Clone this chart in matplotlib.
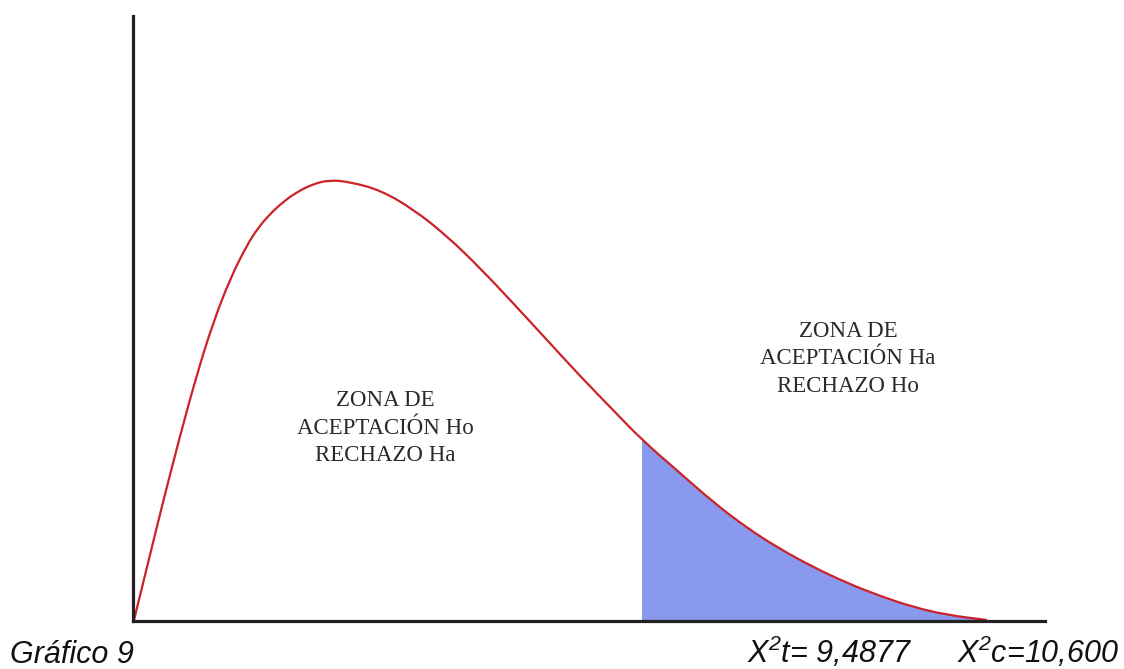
import matplotlib
matplotlib.use('Agg')
import matplotlib.pyplot as plt
from matplotlib.path import Path
from matplotlib.patches import PathPatch, Rectangle

############### Curve ###############
# x: position along the horizontal axis, y: height of the curve (same units)
curve_x = [1, 16, 30, 47, 64, 80, 97, 114, 125, 137, 150, 164, 180, 197, 217, 247,
           280, 314, 347, 380, 414, 447, 480, 509, 547, 580, 614, 647, 680,
           714, 747, 780, 814, 854]
curve_y = [1, 62, 119, 185, 247, 298, 342, 376, 393, 407, 419, 429, 437, 441, 439, 431,
           412, 385, 353, 318, 281, 245, 211, 181, 148, 119, 93, 72, 54,
           38, 25, 14, 6, 1]
critico = 509          # start of the shaded rejection zone

zona_ho = 'ZONA DE\nACEPTACIÓN Ho\nRECHAZO Ha'
zona_ha = 'ZONA DE\nACEPTACIÓN Ha\nRECHAZO Ho'
titulo = 'Gráfico 9'
chi_t = r'X$^2$t= 9,4877'
chi_c = r'X$^2$c=10,600'

plt.rcParams['mathtext.fontset'] = 'custom'
plt.rcParams['mathtext.rm'] = 'Liberation Sans:italic'
plt.rcParams['mathtext.it'] = 'Liberation Sans:italic'

############### Figure ###############
W, H = 1124, 669
fig = plt.figure(figsize=(W / 100, H / 100), dpi=100)
fig.patch.set_facecolor('white')
ax = fig.add_axes([133 / W, 48 / H, 912 / W, 605 / H])
ax.set_xlim(0, 912)
ax.set_ylim(0, 605)

for s in ['top', 'right']:
    ax.spines[s].set_visible(False)
for s in ['left', 'bottom']:
    ax.spines[s].set_linewidth(2.3)
    ax.spines[s].set_color('#222222')
ax.set_xticks([])
ax.set_yticks([])

# smooth path through the read points (quadratic bezier, points as controls)
pts = list(zip(curve_x, curve_y))
verts = [pts[0]]
codes = [Path.MOVETO]
for i in range(1, len(pts) - 1):
    mid = ((pts[i][0] + pts[i + 1][0]) / 2, (pts[i][1] + pts[i + 1][1]) / 2)
    verts += [pts[i], mid]
    codes += [Path.CURVE3, Path.CURVE3]
verts.append(pts[-1])
codes.append(Path.LINETO)

# shaded area under the curve, clipped to the rejection zone
area = Path(verts + [(pts[-1][0], 0), (pts[0][0], 0), pts[0]],
            codes + [Path.LINETO, Path.LINETO, Path.CLOSEPOLY])
fill = PathPatch(area, facecolor='#8999ee', edgecolor='none', zorder=1)
ax.add_patch(fill)
clip = Rectangle((critico, 0), 912 - critico, 605, transform=ax.transData)
fill.set_clip_path(clip)

ax.add_patch(PathPatch(Path(verts, codes), facecolor='none', edgecolor='#cc2229',
                       linewidth=1.6, zorder=2))

txt = dict(family='Liberation Serif', fontsize=16.5, color='#2a2a2a',
           ha='center', va='center', multialignment='center', linespacing=1.4)
ax.text(252, 193, zona_ho, **txt)
ax.text(715, 262, zona_ha, **txt)

bot = dict(family='Liberation Sans', style='italic', fontsize=22,
           color='#111111', va='baseline', ha='left')
fig.text(10 / W, 6 / H, titulo, **bot)
fig.text(747 / W, 6 / H, chi_t, **bot)
fig.text(957 / W, 6 / H, chi_c, **bot)

plt.savefig('out.png', dpi=100)
